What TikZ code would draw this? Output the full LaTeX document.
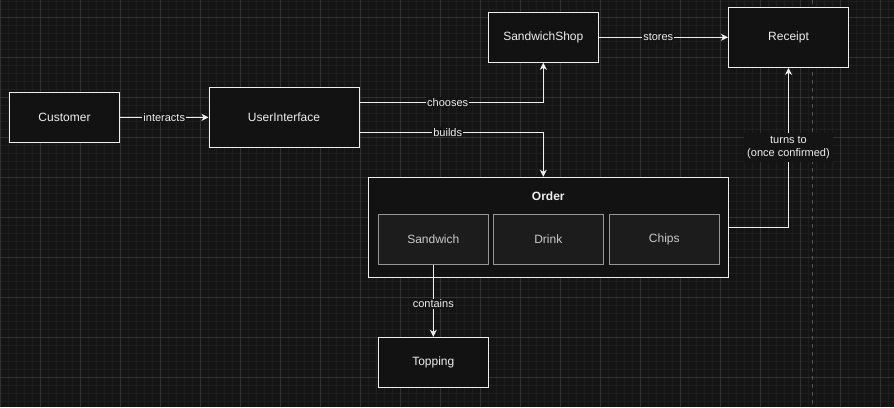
\documentclass[tikz,border=0pt]{standalone}
\usepackage{fontspec}
\setmainfont{Liberation Sans}
\usetikzlibrary{arrows.meta,positioning,calc}
\definecolor{canvas}{RGB}{20,20,20}
\definecolor{gridminor}{RGB}{30,30,30}
\definecolor{gridmajor}{RGB}{50,50,50}
\definecolor{boxfill}{RGB}{18,18,18}
\definecolor{innerfill}{RGB}{28,28,28}
\definecolor{innerline}{RGB}{150,150,150}
\definecolor{ink}{RGB}{238,238,238}
\definecolor{guide}{RGB}{85,85,85}

\begin{document}
\begin{tikzpicture}[x=1pt,y=-1pt,
    entity/.style={draw=ink,fill=boxfill,line width=1pt,text=ink,font=\fontsize{12}{14}\selectfont,
      minimum width=110pt,minimum height=50pt,inner sep=0pt},
    part/.style={entity,draw=innerline,fill=innerfill,text=ink!85!black},
    link/.style={draw=ink,line width=1pt,-{Stealth[length=7pt,width=7pt,inset=2pt]}},
    tag/.style={fill=canvas,text=ink,font=\fontsize{11}{13}\selectfont,inner sep=1pt}]
  \useasboundingbox (0,0) rectangle (894,407);
  \fill[canvas] (0,0) rectangle (894,407);
  % background grid
  \foreach \x in {0,8,...,888} \draw[gridminor,line width=0.6pt] (\x,0) -- (\x,407);
  \foreach \y in {1,9,...,401} \draw[gridminor,line width=0.6pt] (0,\y) -- (894,\y);
  \foreach \x in {0,40,...,880} \draw[gridmajor,line width=0.8pt] (\x,0) -- (\x,407);
  \foreach \y in {17,57,...,377} \draw[gridmajor,line width=0.8pt] (0,\y) -- (894,\y);
  \draw[guide,dashed,dash pattern=on 4pt off 4pt,line width=0.8pt] (812.5,0) -- (812.5,407);

  \node[entity] (customer) at (64.5,117.5) {Customer};
  \node[entity,minimum width=150pt,minimum height=60pt] (ui) at (284,117.3) {UserInterface};
  \node[entity] (shop) at (543.3,37.3) {SandwichShop};
  \node[entity,minimum width=120pt,minimum height=60pt] (receipt) at (788.5,37.3) {Receipt};
  \node[entity,minimum width=360pt,minimum height=100pt] (order) at (548.3,227.3) {};
  \node[text=ink,font=\fontsize{12}{14}\selectfont\bfseries] (ordertitle) at (548.3,196.5) {Order};
  \node[part] (sandwich) at (433.3,239.3) {Sandwich};
  \node[part] (drink) at (548.3,239.3) {Drink};
  \node[part] (chips) at (664.3,239.3) {Chips};
  \node[entity] (topping) at (433.3,362.3) {Topping};

  \draw[link] (customer) -- node[tag] {interacts} (ui);
  \draw[link] ([yshift=15pt]ui.east) -| node[tag,pos=0.24] {chooses} (shop.south);
  \draw[link] ([yshift=-15pt]ui.east) -| node[tag,pos=0.24] {builds} ([xshift=-5pt]order.north);
  \draw[link] (shop) -- node[tag,pos=0.46] {stores} (receipt);
  \draw[link] (order.east) -| node[tag,pos=0.75,align=center,inner sep=3pt] {turns to\\(once confirmed)} (receipt.south);
  \draw[link] (sandwich) -- node[tag,pos=0.54] {contains} (topping);
\end{tikzpicture}
\end{document}
